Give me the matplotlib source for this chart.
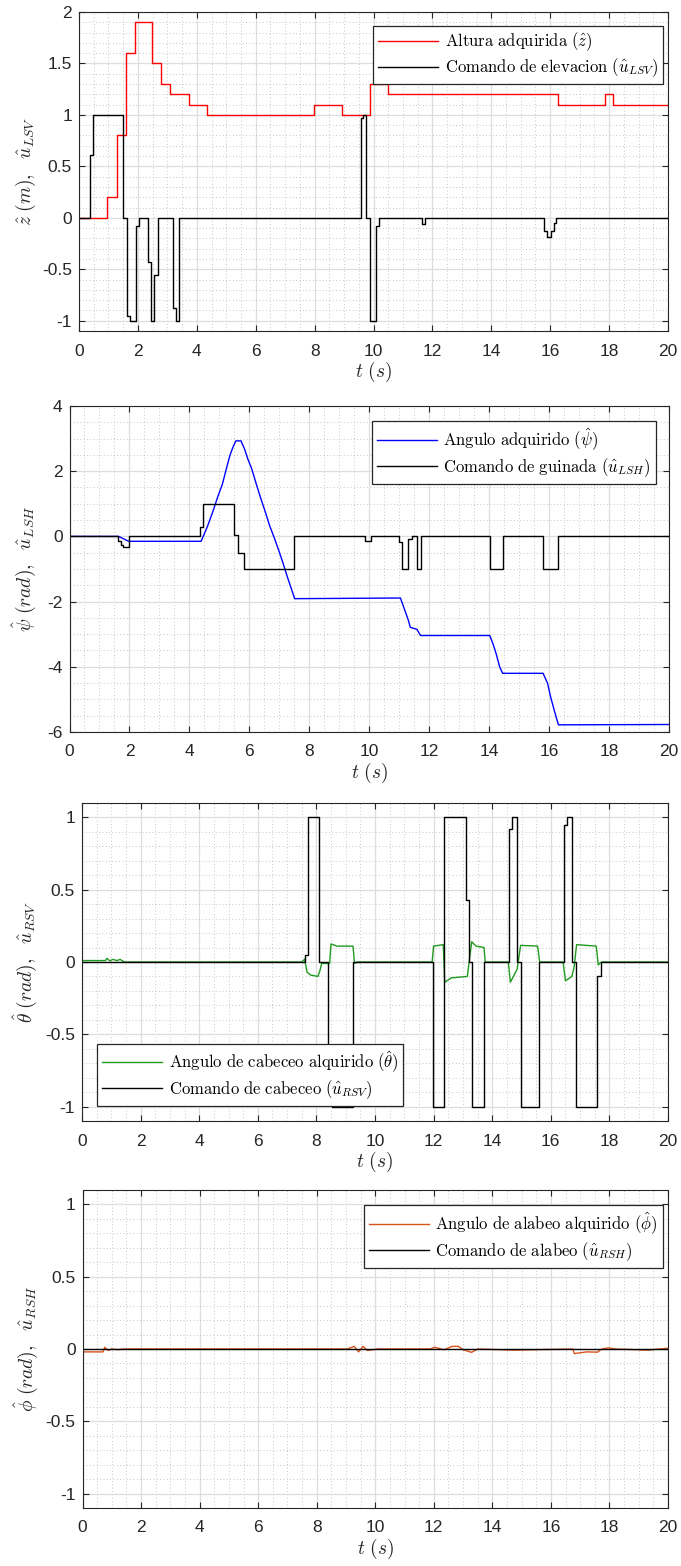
import matplotlib
matplotlib.use('Agg')
import matplotlib.pyplot as plt
from matplotlib.ticker import MultipleLocator

plt.rcParams['mathtext.fontset'] = 'cm'
plt.rcParams['font.family'] = ['Liberation Sans', 'DejaVu Sans']

# Panel 1: altura (z) y comando de elevacion
t_z = [0, 0.96, 1.29, 1.58, 1.9, 2.47, 2.79, 3.1, 3.74, 4.36, 7.99, 8.93, 9.87, 10.5, 16.28, 17.86, 18.12, 20]
z_hat = [0, 0.2, 0.8, 1.6, 1.9, 1.5, 1.3, 1.2, 1.1, 1.0, 1.1, 1.0, 1.3, 1.2, 1.1, 1.2, 1.1, 1.1]
t_ulsv = [0, 0.37, 0.47, 1.5, 1.62, 1.72, 1.94, 2.04, 2.35, 2.46, 2.56, 2.67, 3.18, 3.28, 3.39,
          9.56, 9.64, 9.76, 9.89, 10.07, 10.19, 11.63, 11.75, 15.8, 15.9, 16.04, 16.12, 16.21, 20]
u_lsv = [0, 0.61, 1, 0, -0.95, -1, -0.08, 0, -0.43, -1, -0.56, 0, -0.88, -1, 0,
         0.97, 1, 0, -1, -0.08, 0, -0.065, 0, -0.13, -0.19, -0.13, -0.05, 0, 0]

# Panel 2: guinada (psi)
t_psi = [0, 1.64, 1.97, 4.39, 4.6, 4.79, 4.94, 5.10, 5.24, 5.35, 5.45, 5.55, 5.72, 5.84, 5.95, 6.07,
         6.25, 6.39, 6.54, 6.68, 6.83, 6.97, 7.12, 7.26, 7.41, 7.51, 11.04, 11.18, 11.30, 11.37,
         11.59, 11.71, 14.02, 14.13, 14.23, 14.35, 14.45, 15.80, 15.95, 16.05, 16.17, 16.31, 20]
psi_hat = [0, 0, -0.15, -0.15, 0.3, 0.78, 1.2, 1.6, 2.1, 2.48, 2.73, 2.93, 2.93, 2.68, 2.37, 2.1,
           1.55, 1.14, 0.73, 0.32, -0.04, -0.4, -0.81, -1.22, -1.63, -1.91, -1.89, -2.25, -2.56, -2.79,
           -2.85, -3.04, -3.04, -3.3, -3.59, -4.0, -4.2, -4.2, -4.51, -4.92, -5.33, -5.78, -5.77]
t_ulsh = [0, 1.63, 1.72, 1.8, 1.97, 4.34, 4.44, 5.49, 5.62, 5.82, 7.48, 9.87, 10.07, 10.99, 11.1,
          11.3, 11.41, 11.6, 11.72, 14.02, 14.45, 15.8, 16.3, 20]
u_lsh = [0, -0.15, -0.26, -0.33, 0, 0.29, 1.0, 0.04, -0.52, -1, 0, -0.13, 0, -0.18, -1,
         -0.07, 0, -1, 0, -1, 0, -1, 0, 0]

# Panel 3: cabeceo (theta)
t_theta = [0, 0.8, 0.85, 0.95, 1.05, 1.2, 1.3, 1.45, 7.5, 7.6, 7.68, 7.8, 8.05, 8.12, 8.18, 8.45,
           8.5, 8.7, 9.25, 9.3, 9.4, 11.95, 12.0, 12.33, 12.38, 12.6, 13.15, 13.2, 13.3, 13.45,
           13.72, 13.76, 14.55, 14.62, 14.75, 14.85, 14.97, 15.55, 15.62, 16.42, 16.5, 16.72,
           16.8, 16.88, 17.55, 17.62, 17.72, 20]
theta_hat = [0.01, 0.01, 0.025, 0.008, 0.018, 0.01, 0.018, 0.0, 0.0, 0.02, -0.07, -0.09, -0.1, -0.06,
             -0.01, -0.01, 0.125, 0.11, 0.11, -0.01, 0.0, 0.0, 0.11, 0.12, -0.14, -0.11, -0.1, -0.02,
             0.14, 0.11, 0.1, 0.0, 0.0, -0.14, -0.09, -0.05, 0.115, 0.11, 0.0, 0.0, -0.13, -0.1,
             -0.03, 0.12, 0.11, -0.02, 0.0, 0.0]
t_ursv = [0, 7.6, 7.7, 8.1, 8.4, 8.52, 9.25, 11.98, 12.37, 13.1, 13.2, 13.32, 13.73, 14.57, 14.67,
          14.86, 14.98, 15.59, 16.44, 16.54, 16.73, 16.87, 17.58, 17.7, 20]
u_rsv = [0, 0.046, 1, 0, -0.63, -1, 0, -1, 1, 0.43, 0, -1, 0, 0.92, 1,
         0, -1, 0, 0.95, 1, 0, -1, -0.1, 0, 0]

# Panel 4: alabeo (phi)
t_phi = [0, 0.7, 0.76, 0.88, 1.0, 1.2, 1.4, 9.05, 9.28, 9.43, 9.58, 9.73, 10.1, 11.88, 12.03, 12.35,
         12.62, 12.84, 13.0, 13.29, 13.5, 14.7, 16.75, 16.8, 17.22, 17.59, 17.74, 17.97, 18.2, 19.3, 20]
phi_hat = [-0.02, -0.02, 0.012, -0.01, 0.0, -0.005, 0, 0, 0.018, -0.02, 0.018, -0.01, 0, 0, 0.012,
           -0.005, 0.018, 0.018, -0.005, -0.023, 0, -0.008, 0, -0.032, -0.02, -0.022, 0, 0.008, 0,
           -0.008, 0.005]
t_ursh = [0, 20]
u_rsh = [0, 0]

x_ticks = list(range(0, 21, 2))
edge = '#262626'

fig = plt.figure(figsize=(6.81, 15.66), dpi=100)

def style_axes(ax, ylim, yticks, yminor, ylabel, ylab_x):
    ax.set_xlim(0, 20)
    ax.set_ylim(*ylim)
    ax.set_xticks(x_ticks)
    ax.set_xticklabels([str(v) for v in x_ticks])
    ax.xaxis.set_minor_locator(MultipleLocator(0.5))
    ax.set_yticks(yticks)
    ax.set_yticklabels([('%g' % v) for v in yticks])
    ax.yaxis.set_minor_locator(MultipleLocator(yminor))
    ax.grid(True, which='major', color='#dedede', lw=0.9)
    ax.grid(True, which='minor', color='#b4b4b4', lw=0.6, ls=(0, (1, 3)))
    ax.set_axisbelow(True)
    ax.tick_params(which='major', direction='in', top=True, right=True, length=4,
                   width=0.8, color=edge, labelcolor=edge, labelsize=12.5)
    ax.tick_params(axis='x', which='major', pad=9)
    ax.tick_params(axis='y', which='major', pad=5)
    ax.tick_params(which='minor', length=0)
    for s in ax.spines.values():
        s.set_color(edge)
        s.set_linewidth(0.8)
    ax.set_xlabel(r'$t\ (s)$', fontsize=14, labelpad=1, color=edge)
    ax.set_ylabel(ylabel, fontsize=14, color=edge)
    ax.yaxis.set_label_coords(ylab_x, 0.5)

def add_legend(ax, **kw):
    leg = ax.legend(fontsize=12, frameon=True, fancybox=False, framealpha=1,
                    edgecolor=edge, handlelength=3.6, borderpad=0.3, labelspacing=0.2,
                    handletextpad=0.4, borderaxespad=0, **kw)
    leg.get_frame().set_linewidth(0.9)

# Panel 1
ax1 = fig.add_axes([79 / 681, 1 - 331 / 1566, 589 / 681, 319 / 1566])
ax1.plot(t_z, z_hat, color='red', lw=1.0, drawstyle='steps-post',
         label=r'$\mathrm{Altura\ adquirida}\ (\hat{z})$')
ax1.plot(t_ulsv, u_lsv, color='black', lw=1.0, drawstyle='steps-post',
         label=r'$\mathrm{Comando\ de\ elevacion}\ (\hat{u}_{LSV})$')
style_axes(ax1, (-1.1, 2), [-1, -0.5, 0, 0.5, 1, 1.5, 2], 0.1,
           r'$\hat{z}\ (m),\ \ \hat{u}_{LSV}$', -0.07)
add_legend(ax1, loc='upper right', bbox_to_anchor=(0.992, 0.957))

# Panel 2
ax2 = fig.add_axes([69.5 / 681, 1 - 732 / 1566, 599.5 / 681, 326 / 1566])
ax2.plot(t_psi, psi_hat, color='blue', lw=1.0,
         label=r'$\mathrm{Angulo\ adquirido}\ (\hat{\psi})$')
ax2.plot(t_ulsh, u_lsh, color='black', lw=1.0, drawstyle='steps-post',
         label=r'$\mathrm{Comando\ de\ guinada}\ (\hat{u}_{LSH})$')
style_axes(ax2, (-6, 4), [-6, -4, -2, 0, 2, 4], 0.5,
           r'$\hat{\psi}\ (rad),\ \ \hat{u}_{LSH}$', -0.052)
add_legend(ax2, loc='upper right', bbox_to_anchor=(0.978, 0.954))

# Panel 3
ax3 = fig.add_axes([82 / 681, 1 - 1121 / 1566, 586 / 681, 318 / 1566])
ax3.plot(t_theta, theta_hat, color='#1f9a1f', lw=1.0,
         label=r'$\mathrm{Angulo\ de\ cabeceo\ alquirido}\ (\hat{\theta})$')
ax3.plot(t_ursv, u_rsv, color='black', lw=1.0, drawstyle='steps-post',
         label=r'$\mathrm{Comando\ de\ cabeceo}\ (\hat{u}_{RSV})$')
style_axes(ax3, (-1.1, 1.1), [-1, -0.5, 0, 0.5, 1], 0.1,
           r'$\hat{\theta}\ (rad),\ \ \hat{u}_{RSV}$', -0.073)
add_legend(ax3, loc='lower left', bbox_to_anchor=(0.026, 0.047))

# Panel 4
ax4 = fig.add_axes([82.5 / 681, 1 - 1508 / 1566, 585.5 / 681, 318 / 1566])
ax4.plot(t_phi, phi_hat, color='#d95319', lw=1.0,
         label=r'$\mathrm{Angulo\ de\ alabeo\ alquirido}\ (\hat{\phi})$')
ax4.plot(t_ursh, u_rsh, color='black', lw=1.0,
         label=r'$\mathrm{Comando\ de\ alabeo}\ (\hat{u}_{RSH})$')
style_axes(ax4, (-1.1, 1.1), [-1, -0.5, 0, 0.5, 1], 0.1,
           r'$\hat{\phi}\ (rad),\ \ \hat{u}_{RSH}$', -0.073)
add_legend(ax4, loc='upper right', bbox_to_anchor=(0.991, 0.953))

fig.savefig('out.png', dpi=100)
